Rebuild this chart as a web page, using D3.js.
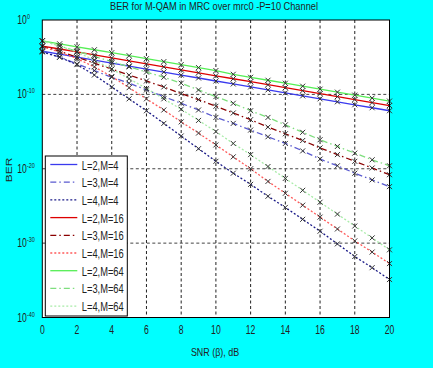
<!DOCTYPE html>
<html>
<head>
<meta charset="utf-8">
<script src="https://cdn.jsdelivr.net/npm/d3@7"></script>
<style>
  body { margin: 0; background: #00ffff; }
  svg { display: block; font-family: "Liberation Sans", Arial, sans-serif; }
</style>
</head>
<body>
<svg width="433" height="368"></svg>
<script>
// BER curves (log10 of BER) for M-QAM with MRC
var snr = [0,1,2,3,4,5,6,7,8,9,10,11,12,13,14,15,16,17,18,19,20];

var l2m4  = [-4.2,-4.6,-5.0,-5.4,-5.8,-6.2,-6.6,-7.0,-7.4,-7.8,-8.2,-8.6,-9.0,-9.4,-9.8,-10.2,-10.6,-11.0,-11.4,-11.8,-12.2];
var l3m4  = [-4.2,-5.0,-5.9,-6.8,-7.7,-8.5,-9.4,-10.3,-11.2,-12.1,-13.1,-13.9,-14.8,-15.7,-16.6,-17.6,-18.7,-19.6,-20.6,-21.5,-22.4];
var l4m4  = [-4.3,-5.0,-6.0,-7.4,-9.0,-10.6,-12.2,-13.9,-15.6,-17.3,-19.0,-20.6,-22.1,-23.7,-25.2,-26.8,-28.4,-30.1,-31.8,-33.3,-34.9];
var l2m16 = [-3.5,-3.9,-4.3,-4.7,-5.1,-5.5,-5.9,-6.3,-6.7,-7.1,-7.5,-7.9,-8.3,-8.7,-9.1,-9.5,-9.9,-10.3,-10.7,-11.1,-11.5];
var l3m16 = [-3.5,-4.2,-5.0,-5.8,-6.6,-7.4,-8.2,-9.0,-9.9,-10.7,-11.6,-12.5,-13.4,-14.4,-15.3,-16.2,-17.2,-18.1,-19.0,-19.9,-20.8];
var l4m16 = [-3.6,-4.3,-5.2,-6.3,-7.6,-9.1,-10.6,-12.1,-13.7,-15.2,-16.8,-18.4,-20.0,-21.7,-23.3,-24.9,-26.5,-28.1,-29.7,-31.2,-32.75];
var l2m64 = [-2.8,-3.2,-3.6,-4.0,-4.4,-4.8,-5.2,-5.6,-6.0,-6.4,-6.8,-7.3,-7.7,-8.1,-8.5,-8.9,-9.3,-9.7,-10.1,-10.5,-10.9];
var l3m64 = [-2.8,-3.5,-4.2,-4.9,-5.6,-6.3,-7.0,-7.7,-8.5,-9.4,-10.3,-11.2,-12.2,-13.1,-14.1,-15.1,-16.1,-17.0,-17.9,-18.8,-19.6];
var l4m64 = [-2.8,-3.5,-4.3,-5.4,-6.6,-7.9,-9.2,-10.6,-12.0,-13.5,-15.0,-16.6,-18.1,-19.7,-21.3,-22.9,-24.5,-26.1,-27.7,-29.3,-30.9];

var labels = ["L=2,M=4","L=3,M=4","L=4,M=4","L=2,M=16","L=3,M=16","L=4,M=16","L=2,M=64","L=3,M=64","L=4,M=64"];
var xTicks = [0,2,4,6,8,10,12,14,16,18,20];
var yExps  = [0,-10,-20,-30,-40];

var series = [l2m4,l3m4,l4m4,l2m16,l3m16,l4m16,l2m64,l3m64,l4m64];
var colors = ["#3a3aee","#5a5ad0","#1a1a88","#dd0000","#8a0000","#ff5a5a","#55ee55","#7ede7e","#a8eca8"];
var dashes = [null,"6,3,1.5,3","2,2",null,"6,3,1.5,3","2,2",null,"6,3,1.5,3","2,2"];

var svg = d3.select("svg"),
    margin = {top: 20, right: 43.5, bottom: 50.5, left: 42.3},
    width = 433 - margin.left - margin.right,
    height = 368 - margin.top - margin.bottom;

var x = d3.scaleLinear().domain([0, 20]).range([0, width]);
var y = d3.scaleLog().domain([1e-40, 1]).range([height, 0]);

var g = svg.append("g").attr("transform", "translate(" + margin.left + "," + margin.top + ")");

g.append("rect").attr("width", width).attr("height", height).attr("fill", "#fff");

// grid
g.selectAll(".vgrid").data(xTicks.slice(1, -1)).enter().append("line")
    .attr("x1", function(d) { return x(d); }).attr("x2", function(d) { return x(d); })
    .attr("y1", 0).attr("y2", height)
    .attr("stroke", "#222").attr("stroke-dasharray", "3,2.5");
g.selectAll(".hgrid").data(yExps.slice(1, -1)).enter().append("line")
    .attr("x1", 0).attr("x2", width)
    .attr("y1", function(d) { return y(Math.pow(10, d)); }).attr("y2", function(d) { return y(Math.pow(10, d)); })
    .attr("stroke", "#444").attr("stroke-dasharray", "3,2.5");

// curves
var line = d3.line()
    .x(function(d, i) { return x(snr[i]); })
    .y(function(d) { return y(Math.pow(10, d)); });

series.forEach(function(s, k) {
  g.append("path").datum(s)
      .attr("d", line)
      .attr("fill", "none")
      .attr("stroke", colors[k])
      .attr("stroke-width", 1.3)
      .attr("stroke-dasharray", dashes[k]);
});

// x markers
series.forEach(function(s) {
  g.append("g").selectAll("path").data(s).enter().append("path")
      .attr("transform", function(d, i) { return "translate(" + x(snr[i]) + "," + y(Math.pow(10, d)) + ")"; })
      .attr("d", "M-2.5,-2.5L2.5,2.5M-2.5,2.5L2.5,-2.5")
      .attr("stroke", "#333").attr("stroke-width", 1);
});

// frame
g.append("rect").attr("width", width).attr("height", height)
    .attr("fill", "none").attr("stroke", "#000").attr("stroke-width", 1);

// x tick labels
g.selectAll(".xt").data(xTicks).enter().append("text")
    .attr("transform", function(d) { return "translate(" + x(d) + "," + (height + 16) + ") scale(0.72,1)"; })
    .attr("text-anchor", "middle")
    .attr("font-size", 12)
    .attr("fill", "#222")
    .text(function(d) { return d; });

// y tick labels (10^exp)
var yl = g.selectAll(".yt").data(yExps).enter().append("text")
    .attr("transform", function(d) { return "translate(-25," + (y(Math.pow(10, d)) + 4) + ") scale(0.72,1)"; })
    .attr("font-size", 12)
    .attr("fill", "#222");
yl.append("tspan").text("10");
yl.append("tspan").attr("dy", -5).attr("font-size", 7.5).text(function(d) { return d; });

// axis titles
svg.append("text")
    .attr("transform", "translate(215,356) scale(0.85,1)")
    .attr("text-anchor", "middle").attr("font-size", 10.5).attr("fill", "#222")
    .text("SNR (\u03b2), dB");
svg.append("text")
    .attr("transform", "translate(12,170) rotate(-90) scale(1,0.8)")
    .attr("text-anchor", "middle").attr("font-size", 12).attr("fill", "#222")
    .text("BER");
svg.append("text")
    .attr("transform", "translate(214,10) scale(0.88,1)")
    .attr("text-anchor", "middle").attr("font-size", 10.5).attr("fill", "#222")
    .text("BER for M-QAM in MRC over mrc0  -P=10 Channel");

// legend
var lg = g.append("g").attr("transform", "translate(3,136)");
lg.append("rect").attr("width", 82).attr("height", 160)
    .attr("fill", "#fff").attr("stroke", "#000").attr("stroke-width", 1);
var item = lg.selectAll(".item").data(labels).enter().append("g")
    .attr("transform", function(d, i) { return "translate(0," + (8.5 + i * 17.7) + ")"; });
item.append("line")
    .attr("x1", 5).attr("x2", 32).attr("y1", 0).attr("y2", 0)
    .attr("stroke", function(d, i) { return colors[i]; })
    .attr("stroke-width", 1.3)
    .attr("stroke-dasharray", function(d, i) { return dashes[i]; });
item.append("text")
    .attr("transform", "translate(36.5,5) scale(0.69,1)")
    .attr("font-size", 13.5).attr("fill", "#222")
    .text(function(d) { return d; });
</script>
</body>
</html>
